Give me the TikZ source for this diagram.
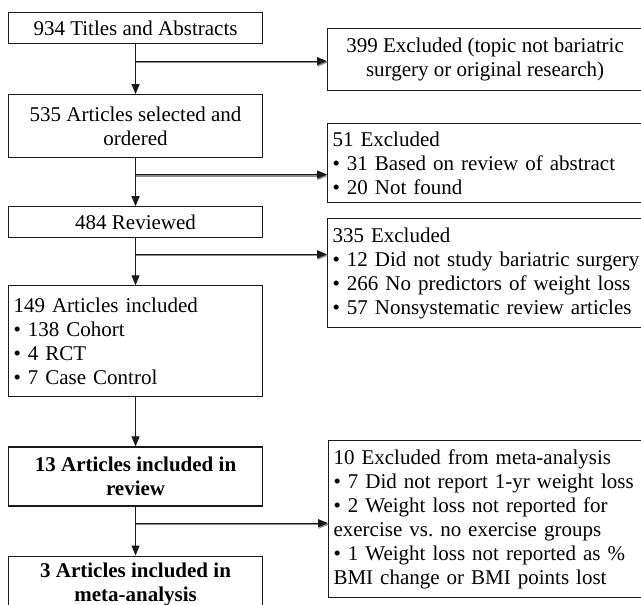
\documentclass[tikz,border=0pt]{standalone}
\usepackage{fontspec}
\setmainfont{Liberation Serif}
\usetikzlibrary{arrows.meta,positioning,calc}
\definecolor{cLine}{HTML}{1A1A1A}
\definecolor{cShade}{HTML}{8C8C8C}
\tikzset{
  box/.style={draw=cLine, line width=1.1pt, fill=white, text=black, align=center,
              font=\fontsize{21}{24}\selectfont, inner sep=5pt, minimum width=254pt},
  listbox/.style={box, align=left, text width=#1},
  boldbox/.style={box, font=\fontsize{21}{24}\selectfont\bfseries},
  down/.style={-{Triangle[length=10pt,width=8pt]}, line width=1.1pt, draw=cLine},
  side/.style={-{Triangle[length=10pt,width=8pt]}, line width=1.2pt, draw=cLine,
               preaction={draw=cShade, line width=1.4pt, transform canvas={shift={(0.6pt,-1.4pt)}}}},
}
\begin{document}
\begin{tikzpicture}[x=1pt, y=-1pt]
  \useasboundingbox (0,0) rectangle (641,605);
  % main column
  \node[box, anchor=north west, minimum height=31pt] (titles) at (8,12) {934 Titles and Abstracts};
  \node[box, below=50pt of titles, minimum height=63pt] (selected) {535 Articles selected and\\ordered};
  \node[box, below=48pt of selected, minimum height=31pt] (reviewed) {484 Reviewed};
  \node[listbox=244pt, below=47pt of reviewed, minimum height=111pt] (included)
    {149 Articles included\\\textbullet{} 138 Cohort\\\textbullet{} 4 RCT\\\textbullet{} 7 Case Control};
  \node[boldbox, below=49pt of included, minimum height=59pt] (review) {13 Articles included in\\review};
  \node[boldbox, below=49pt of review, minimum height=57pt] (meta) {3 Articles included in\\meta-analysis};
  % exclusions
  \node[box, anchor=north west, minimum width=315pt, minimum height=62pt] (topic) at (327,28)
    {399 Excluded (topic not bariatric\\surgery or original research)};
  \node[listbox=318pt, anchor=north west, minimum height=79pt] (abstract) at (327,123)
    {51 Excluded\\\textbullet{} 31 Based on review of abstract\\\textbullet{} 20 Not found};
  \node[listbox=318pt, anchor=north west, minimum height=109pt] (nostudy) at (327,218)
    {335 Excluded\\\textbullet{} 12 Did not study bariatric surgery\\\textbullet{} 266 No predictors of weight loss\\\textbullet{} 57 Nonsystematic review articles};
  \node[listbox=318pt, anchor=north west, minimum height=157pt] (metaout) at (328,440)
    {10 Excluded from meta-analysis\\\textbullet{} 7 Did not report 1-yr weight loss\\\textbullet{} 2 Weight loss not reported for\\exercise vs.\ no exercise groups\\\textbullet{} 1 Weight loss not reported as \%\\BMI change or BMI points lost};
  \foreach \a/\b/\c in {titles/selected/topic, selected/reviewed/abstract, reviewed/included/nostudy, review/meta/metaout} {
    \coordinate (s) at ($(\a.south)!0.34!(\b.north)$);
    \draw[side] (s) -- (s -| \c.west);
  }
  \foreach \a/\b in {titles/selected, selected/reviewed, reviewed/included, included/review, review/meta}
    \draw[down] (\a) -- (\b);
\end{tikzpicture}
\end{document}
